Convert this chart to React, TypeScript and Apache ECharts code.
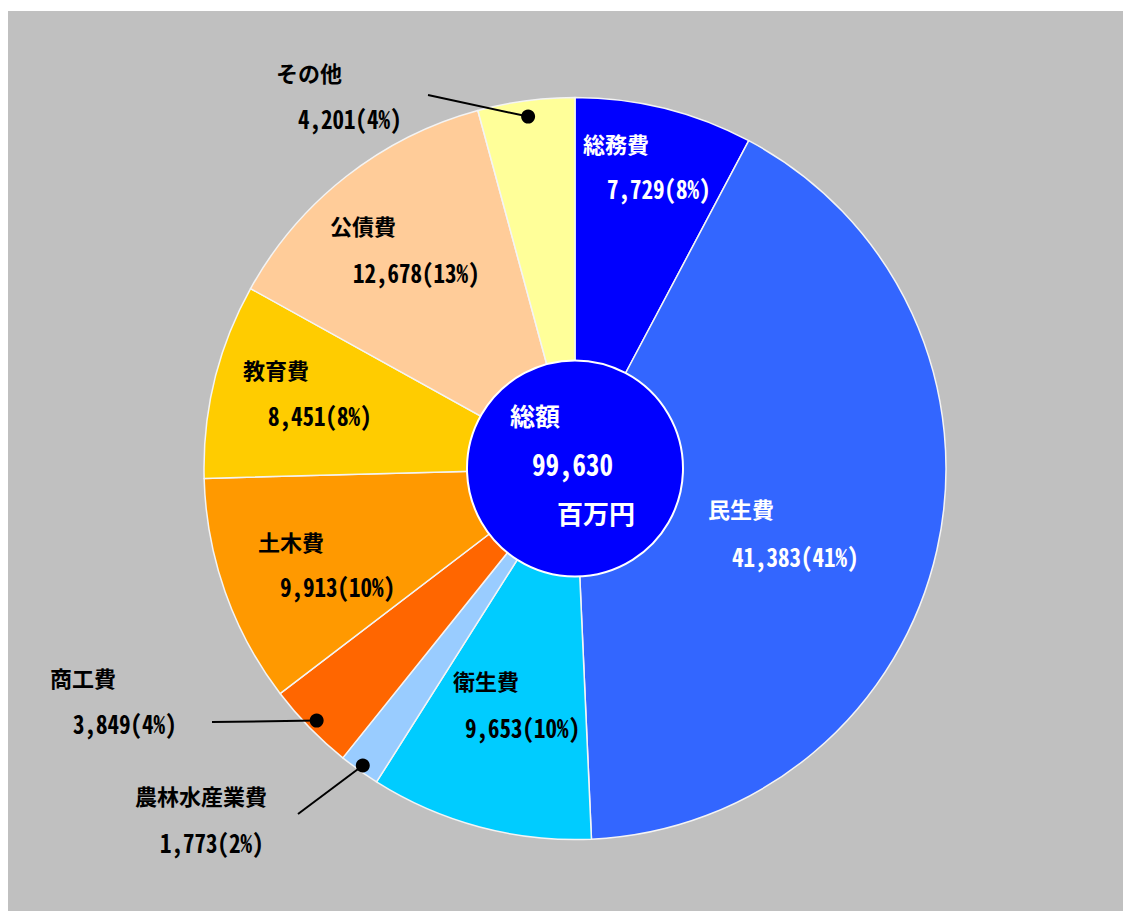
import React, { useEffect, useRef } from "react";
import * as echarts from "echarts";

// ---- data ----
const categories = ["総務費", "民生費", "衛生費", "農林水産業費", "商工費", "土木費", "教育費", "公債費", "その他"];
const values = [7729, 41383, 9653, 1773, 3849, 9913, 8451, 12678, 4201];
const percents = [8, 41, 10, 2, 4, 10, 8, 13, 4];
const totalTitle = "総額";
const totalUnit = "百万円";

// ---- styles / layout (not data) ----
const sliceColors = ["#0000ff", "#3366ff", "#00ccff", "#99ccff", "#ff6600", "#ff9900", "#ffcc00", "#ffcc99", "#ffff99"];
const textColors = ["#ffffff", "#ffffff", "#000000", "#000000", "#000000", "#000000", "#000000", "#000000", "#000000"];
// [nameX, nameY, valueX, valueY] in chart px (left edge, vertical middle)
const labelPos = [
  [575, 132, 599, 177],
  [700, 497, 724, 545],
  [445, 669, 457, 716],
  [127, 784, 152, 831],
  [42, 666, 65, 712],
  [250, 530, 272, 575],
  [235, 358, 260, 404],
  [322, 214, 345, 261],
  [268, 61, 290, 107],
];
// leader lines: slice index, dot radius fraction, far end
const leaders = [
  { idx: 8, rFrac: 0.957, end: [420, 84] },
  { idx: 4, rFrac: 0.973, end: [204, 711] },
  { idx: 3, rFrac: 0.984, end: [290, 803] },
];
const CX = 567;
const CY = 457.5;
const R = 371;
const R_IN = 108;

const nameFont = "'Noto Sans CJK JP', sans-serif";
const numFont = "'Noto Sans Mono CJK JP', 'Noto Sans CJK JP', monospace";

function fmt(n: number) {
  return n.toLocaleString("en-US");
}

function textEl(text: string, x: number, y: number, fill: string, size: number, weight: string, family: string, sy = 1, z = 10) {
  return {
    type: "text",
    x,
    y,
    z,
    scaleY: sy,
    style: {
      text,
      fill,
      fontSize: size,
      fontWeight: weight,
      fontFamily: family,
      align: "left",
      verticalAlign: "middle",
      textAlign: "left",
      textVerticalAlign: "middle",
    },
  };
}

export default function App() {
  const ref = useRef<HTMLDivElement>(null);
  useEffect(() => {
    document.documentElement.style.overflow = "hidden";
    document.body.style.overflow = "hidden";
    const chart = echarts.init(ref.current!, null, { renderer: "svg" });
    const total = values.reduce((a, b) => a + b, 0);

    const graphics: any[] = [];
    categories.forEach((name, i) => {
      const [nx, ny, vx, vy] = labelPos[i];
      graphics.push(textEl(name, nx, ny, textColors[i], 22, "bold", nameFont));
      graphics.push(textEl(`${fmt(values[i])}(${percents[i]}%)`, vx, vy, textColors[i], 23, "bold", numFont, 1.1));
    });
    const cum: number[] = [];
    values.reduce((acc, v, i) => {
      cum[i] = acc;
      return acc + v;
    }, 0);
    leaders.forEach((l) => {
      const a = ((cum[l.idx] + values[l.idx] / 2) / total) * Math.PI * 2;
      const r = R * l.rFrac;
      const dx = CX + r * Math.sin(a);
      const dy = CY - r * Math.cos(a);
      graphics.push({
        type: "line",
        z: 10,
        shape: { x1: l.end[0], y1: l.end[1], x2: dx, y2: dy },
        style: { stroke: "#000", lineWidth: 2 },
      });
      graphics.push({
        type: "circle",
        z: 11,
        shape: { cx: dx, cy: dy, r: 7 },
        style: { fill: "#000" },
      });
    });
    graphics.push(textEl(totalTitle, 502, 404, "#ffffff", 25, "bold", nameFont, 1, 12));
    graphics.push(textEl(fmt(total), 524, 452, "#ffffff", 27, "bold", numFont, 1.1, 12));
    graphics.push(textEl(totalUnit, 549, 501, "#ffffff", 26, "bold", nameFont, 1, 12));

    chart.setOption({
      animation: false,
      backgroundColor: "#c0c0c0",
      series: [
        {
          type: "pie",
          center: [CX, CY],
          radius: [0, R],
          startAngle: 90,
          clockwise: true,
          silent: true,
          label: { show: false },
          labelLine: { show: false },
          itemStyle: { borderColor: "#f4f4f4", borderWidth: 1.5 },
          data: categories.map((name, i) => ({
            name,
            value: values[i],
            itemStyle: { color: sliceColors[i] },
          })),
        },
        {
          type: "pie",
          center: [CX, CY],
          radius: [0, R_IN],
          silent: true,
          label: { show: false },
          labelLine: { show: false },
          itemStyle: { color: "#0000ff", borderColor: "#ffffff", borderWidth: 2 },
          data: [{ name: totalTitle, value: total }],
        },
      ],
      graphic: graphics,
    });
    return () => chart.dispose();
  }, []);
  return (
    <div
      ref={ref}
      style={{ width: 1123, height: 903, position: "relative", top: 3 }}
    />
  );
}
